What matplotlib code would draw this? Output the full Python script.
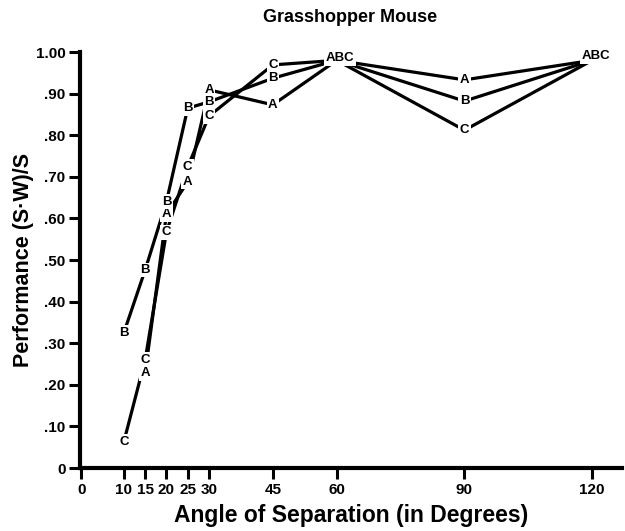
import matplotlib
matplotlib.use('Agg')
import matplotlib.pyplot as plt

# angles (degrees) and performance values
angles_a = [15, 20, 25, 30, 45, 60, 90, 120]
perf_a = [0.228, 0.61, 0.688, 0.909, 0.873, 0.98, 0.933, 0.98]

angles_b = [10, 15, 20, 25, 30, 45, 60, 90, 120]
perf_b = [0.325, 0.476, 0.64, 0.865, 0.88, 0.937, 0.98, 0.882, 0.98]

angles_c = [10, 15, 20, 25, 30, 45, 60, 90, 120]
perf_c = [0.063, 0.26, 0.567, 0.724, 0.846, 0.969, 0.98, 0.812, 0.98]

# points where all three coincide, labelled "ABC"
common_x = [60, 120]
common_y = [0.985, 0.99]

xticks = [0, 10, 15, 20, 25, 30, 45, 60, 90, 120]
yticks = [0, .1, .2, .3, .4, .5, .6, .7, .8, .9, 1.0]
ylabels = ['0', '.10', '.20', '.30', '.40', '.50', '.60', '.70', '.80', '.90', '1.00']

plt.rcParams['font.family'] = ['Liberation Sans', 'DejaVu Sans']
plt.rcParams['font.weight'] = 'bold'

fig = plt.figure(figsize=(6.25, 5.31), dpi=100)
ax = fig.add_axes([80/625, 1-468/531, (622-80)/625, (468-52)/531])

series = [('A', angles_a, perf_a), ('B', angles_b, perf_b), ('C', angles_c, perf_c)]
for name, xs, ys in series:
    ax.plot(xs, ys, color='black', lw=2.3, solid_capstyle='round', zorder=2)
    for x, y in zip(xs, ys):
        if x in common_x:
            continue
        ax.text(x, y, name, ha='center', va='center', fontsize=9.5,
                fontweight='bold', zorder=3,
                bbox=dict(facecolor='white', edgecolor='none', pad=1.0))

for x, y in zip(common_x, common_y):
    ax.text(x + 0.8, y, 'ABC', ha='center', va='center', fontsize=9.5,
            fontweight='bold', zorder=3,
            bbox=dict(facecolor='white', edgecolor='none', pad=1.0))

ax.set_xlim(-0.3, 127)
ax.set_ylim(0, 1.0)
ax.set_xticks(xticks)
ax.set_xticklabels([str(t) for t in xticks], fontsize=11, fontweight='bold')
ax.set_yticks(yticks)
ax.set_yticklabels(ylabels, fontsize=11, fontweight='bold')

for s in ['top', 'right']:
    ax.spines[s].set_visible(False)
for s in ['left', 'bottom']:
    ax.spines[s].set_linewidth(3)
ax.tick_params(axis='both', direction='out', length=8, width=2.2, pad=2.5)

ax.set_xlabel('Angle of Separation (in Degrees)', fontsize=16.5, fontweight='bold', labelpad=5)
ax.set_ylabel('Performance (S\u00b7W)/S', fontsize=15.5, fontweight='bold', labelpad=1)
fig.text(350/625, 1-17/531, 'Grasshopper Mouse', ha='center', va='center',
         fontsize=13, fontweight='bold')

fig.savefig('out.png', dpi=100)
